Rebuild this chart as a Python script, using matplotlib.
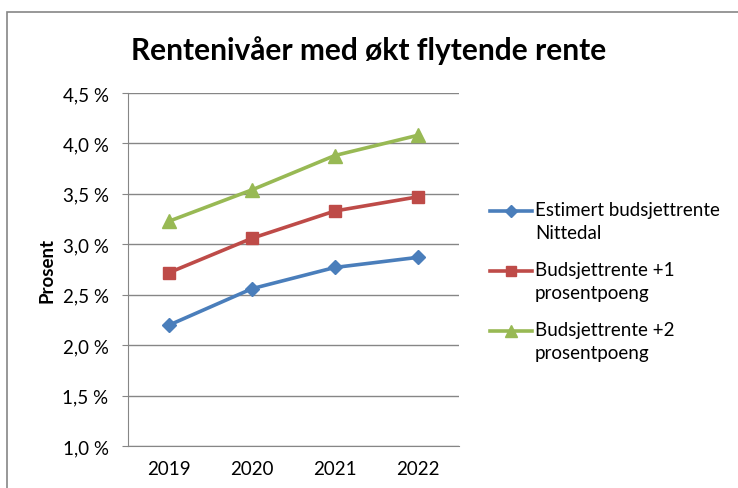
import matplotlib
matplotlib.use('Agg')
import matplotlib.pyplot as plt
from matplotlib.patches import Rectangle
from matplotlib.lines import Line2D

plt.rcParams['font.family'] = ['Lato', 'DejaVu Sans']

years = ['2019', '2020', '2021', '2022']
estimert = [2.20, 2.56, 2.77, 2.87]
pluss1 = [2.72, 3.06, 3.33, 3.47]
pluss2 = [3.23, 3.54, 3.88, 4.08]
labels = ['Estimert budsjettrente\nNittedal', 'Budsjettrente +1\nprosentpoeng', 'Budsjettrente +2\nprosentpoeng']
yticks = [1.0, 1.5, 2.0, 2.5, 3.0, 3.5, 4.0, 4.5]
ytick_labels = ['1,0 %', '1,5 %', '2,0 %', '2,5 %', '3,0 %', '3,5 %', '4,0 %', '4,5 %']

colors = ['#4A7EBB', '#BE4B48', '#98B954']
markers = ['D', 's', '^']
sizes = [7, 9, 10]

fig = plt.figure(figsize=(7.38, 4.89), dpi=100)
ax = fig.add_axes([0.1734, 0.0859, 0.4485, 0.7219])

x = range(len(years))
for serie, c, m, s in zip([estimert, pluss1, pluss2], colors, markers, sizes):
    ax.plot(x, serie, color=c, lw=2.6, marker=m, ms=s)

ax.set_xlim(-0.5, 3.5)
ax.set_ylim(1.0, 4.5)
ax.set_xticks(list(x))
ax.set_xticklabels(years, fontsize=13.5)
ax.set_yticks(yticks)
ax.set_yticklabels(ytick_labels, fontsize=13.5)
ax.tick_params(axis='x', length=0, pad=10)
ax.tick_params(axis='y', length=4, color='#868686', pad=10)
ax.grid(axis='y', color='#868686', lw=1)
ax.set_axisbelow(True)
for s in ['top', 'right']:
    ax.spines[s].set_visible(False)
for s in ['left', 'bottom']:
    ax.spines[s].set_color('#868686')
ax.set_ylabel('Prosent', fontsize=13.5, fontweight='bold', labelpad=5)

fig.text(0.50, 0.897, 'Rentenivåer med økt flytende rente', fontsize=21.5, fontweight='bold',
         ha='center', va='center')

# legend drawn by hand, handle aligned with first text line
W, H = 738, 489
for i, (lab, c, m, s) in enumerate(zip(labels, colors, markers, sizes)):
    y0 = 212 + 60 * i
    fig.add_artist(Line2D([490 / W, 532 / W], [1 - y0 / H] * 2, transform=fig.transFigure,
                          color=c, lw=2.6))
    fig.add_artist(Line2D([511 / W], [1 - y0 / H], transform=fig.transFigure,
                          color=c, marker=m, ms=s * 0.85, lw=0))
    fig.text(535 / W, 1 - (y0 - 10) / H, lab, fontsize=13.5, ha='left', va='top', linespacing=1.42)

fig.patches.append(Rectangle((7 / W, -0.1), 1.0, 1.1 - 13 / H, transform=fig.transFigure,
                             fill=False, edgecolor='#868686', lw=1.2))

fig.savefig('out.png', dpi=100)
